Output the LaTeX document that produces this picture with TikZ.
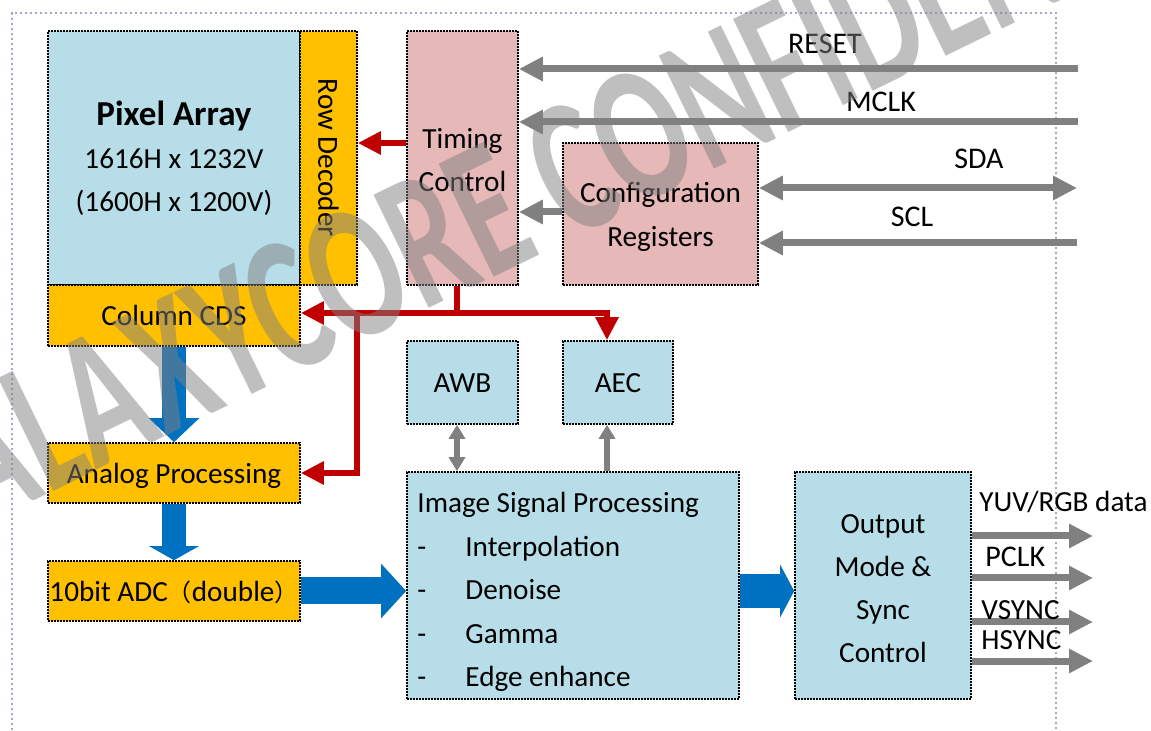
\documentclass[tikz,border=0pt]{standalone}
\usepackage{fontspec}
\usepackage{graphicx}
\setmainfont{Carlito}
\newfontfamily\cjk{Noto Sans CJK SC}
\newfontfamily\wmfont{Carlito}
\usetikzlibrary{arrows.meta}
\definecolor{lblue}{RGB}{183,222,232}
\definecolor{gold}{RGB}{255,192,0}
\definecolor{pinkbox}{RGB}{230,184,183}
\definecolor{dred}{RGB}{192,0,0}
\definecolor{ablue}{RGB}{0,112,192}
\definecolor{agray}{RGB}{128,128,128}
\definecolor{framec}{RGB}{178,161,199}
\begin{document}
\begin{tikzpicture}[x=0.5pt,y=-0.5pt,
  blk/.style={draw=black, line width=0.8pt, dash pattern=on 0.8pt off 0.7pt, inner sep=0pt, align=center, font=\fontsize{14.6}{21.5}\selectfont},
  one/.style={text height=11pt, text depth=0.6pt},
  lbl/.style={inner sep=0pt, font=\fontsize{15}{17}\selectfont},
  olbl/.style={inner sep=0pt, anchor=west, font=\fontsize{14.6}{17}\selectfont},
  mtext/.style={inner sep=0pt, align=center, font=\fontsize{14.6}{21.6}\selectfont},
  garrow/.style={draw=agray, line width=3.5pt, -{Triangle[length=12pt,width=11.5pt]}},
  gboth/.style={draw=agray, line width=3.5pt, {Triangle[length=12pt,width=11.5pt]}-{Triangle[length=12pt,width=11.5pt]}},
  gsmall/.style={draw=agray, line width=2.8pt, -{Triangle[length=7pt,width=8pt]}},
  gsmallboth/.style={draw=agray, line width=2.8pt, {Triangle[length=7pt,width=8pt]}-{Triangle[length=7pt,width=8pt]}},
  rline/.style={draw=dred, line width=3pt},
  rarrow/.style={draw=dred, line width=3pt, -{Triangle[length=11.5pt,width=11pt]}},
  barrow/.style={draw=ablue, line width=12pt, -{Triangle[length=12pt,width=24.5pt]}},
]
\useasboundingbox (0,0) rectangle (1151,731);
\clip (0,0) rectangle (1151,731);

% outer frame
\draw[framec, line width=1.2pt, dash pattern=on 1.1pt off 1.4pt] (12,760) -- (12,13) -- (1056,13) -- (1056,760);

% blocks
\node[blk, fill=lblue, minimum width=126pt, minimum height=127pt, font=\fontsize{14.6}{21.5}\selectfont] (pa) at (174,158)
  {{\fontsize{17.5}{21.5}\selectfont\bfseries Pixel Array}\\1616H x 1232V\\(1600H x 1200V)};
\node[blk, fill=gold, minimum width=28.5pt, minimum height=127pt] (rd) at (328.5,158) {};
\node[lbl, font=\fontsize{14.6}{17}\selectfont, rotate=-90] (rdtext) at (rd.center) {Row Decoder};
\node[blk, one, fill=gold, minimum width=126pt, minimum height=30.5pt] (cds) at (174,315.5) {Column CDS};
\node[blk, one, fill=gold, minimum width=126pt, minimum height=30pt] (ap) at (174,473) {Analog Processing};
\node[blk, one, fill=gold, minimum width=126pt, minimum height=30pt] (adc) at (174,591)
  {10bit ADC{\cjk\fontsize{12}{12}\selectfont （}double{\cjk\fontsize{12}{12}\selectfont ）}};
\node[blk, fill=pinkbox, minimum width=55.5pt, minimum height=127pt] (tc) at (462.5,158) {};
\node[mtext] (tctext) at (462.5,160) {Timing\\Control};
\node[blk, fill=pinkbox, minimum width=97.5pt, minimum height=71pt] (cr) at (660.5,214) {};
\node[mtext] (crtext) at (660.5,217) {Configuration\\Registers};
\node[blk, one, fill=lblue, minimum width=55.5pt, minimum height=41.5pt] (awb) at (462.5,382.5) {AWB};
\node[blk, one, fill=lblue, minimum width=55pt, minimum height=41.5pt] (aec) at (618,382.5) {AEC};
\node[blk, fill=lblue, minimum width=166pt, minimum height=113.5pt] (isp) at (573,585.5) {};
\node[inner sep=0pt, anchor=west, align=left, font=\fontsize{14.6}{21.75}\selectfont] (isptext) at (417,592)
  {Image Signal Processing\\
   \makebox[24pt][l]{-}Interpolation\\
   \makebox[24pt][l]{-}Denoise\\
   \makebox[24pt][l]{-}Gamma\\
   \makebox[24pt][l]{-}Edge enhance};
\node[blk, fill=lblue, minimum width=88pt, minimum height=113.5pt] (out) at (883,585.5) {};
\node[mtext] (outtext) at (883,588.5) {Output\\Mode \&\\Sync\\Control};

% gray input arrows
\coordinate (resetin) at (1078,69);
\coordinate (mclkin) at (1078,122);
\coordinate (sdaout) at (1077,188);
\coordinate (sclin) at (1077,243);
\draw[garrow] (resetin) -- (resetin -| tc.east);
\draw[garrow] (mclkin) -- (mclkin -| tc.east);
\draw[gboth] (cr.east |- sdaout) -- (sdaout);
\draw[garrow] (sclin) -- (sclin -| cr.east);
\coordinate (crtc) at (0,212);
\draw[garrow] (cr.west |- crtc) -- (tc.east |- crtc);
\node[lbl] (resetl) at (825,44) {RESET};
\node[lbl] (mclkl) at (881,102) {MCLK};
\node[lbl] (sdal) at (979,159) {SDA};
\node[lbl] (scll) at (912,217) {SCL};

% red control lines
\coordinate (rdy) at (0,143);
\draw[rarrow] (tc.west |- rdy) -- (rd.east |- rdy);
\coordinate (j1) at (457,313);
\coordinate (j2) at (357,313);
\coordinate (j3) at (607,313);
\draw[rline] (tc.south -| j1) -- (j1);
\draw[rarrow] (j3) -- (cds.east |- j3);
\draw[rarrow] (j1) -- (j3) -- (j3 |- aec.north);
\draw[rarrow] (j2) -- (j2 |- ap.east) -- (ap.east);

% blue data arrows
\draw[barrow] (cds.south) -- (ap.north);
\draw[barrow, -{Triangle[length=7pt,width=24.5pt]}] (ap.south) -- (adc.north);
\draw[barrow, line width=13.5pt, -{Triangle[length=12.5pt,width=26.5pt]}] (adc.east) -- (adc.east -| isp.west);
\coordinate (ispout) at (0,591);
\draw[barrow, line width=17pt, -{Triangle[length=7pt,width=26pt]}] (isp.east |- ispout) -- (out.west |- ispout);

% AWB / AEC
\coordinate (awbx) at (457,0);
\coordinate (aecx) at (607,0);
\draw[gsmallboth] (awb.south -| awbx) -- (isp.north -| awbx);
\draw[gsmall] (isp.north -| aecx) -- (aec.south -| aecx);

% outputs
\coordinate (o1) at (1093,536);
\coordinate (o2) at (1093,578);
\coordinate (o3) at (1093,622);
\coordinate (o4) at (1093,661);
\draw[garrow] (out.east |- o1) -- (o1);
\draw[garrow] (out.east |- o2) -- (o2);
\draw[garrow] (out.east |- o3) -- (o3);
\draw[garrow] (out.east |- o4) -- (o4);
\node[olbl] (yuvl) at (979,502) {YUV/RGB data};
\node[olbl, font=\fontsize{15}{17}\selectfont] (pclkl) at (985,557) {PCLK};
\node[olbl] (vsyncl) at (981,610) {VSYNC};
\node[olbl] (hsyncl) at (981,640) {HSYNC};

% watermark
\node[rotate=26, text=black!50, opacity=0.5, inner sep=0pt] (wm) at (563,173)
  {\scalebox{0.66}[1]{\wmfont\bfseries\fontsize{97}{97}\selectfont GALAXYCORE CONFIDENTIAL}};
\end{tikzpicture}
\end{document}
